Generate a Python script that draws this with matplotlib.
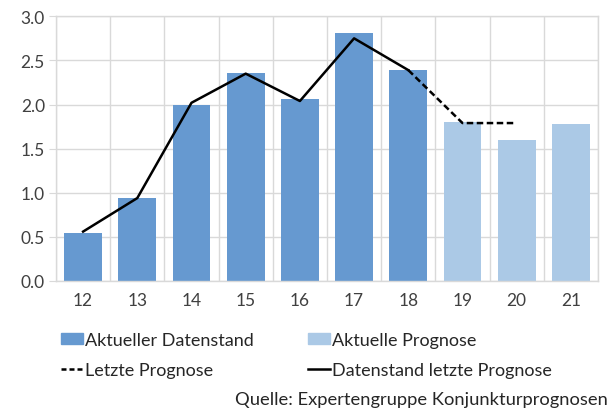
import matplotlib
matplotlib.use("Agg")
import matplotlib.pyplot as plt
from matplotlib.lines import Line2D
from matplotlib.patches import Patch
import numpy as np

plt.rcParams['font.family'] = ['Lato', 'DejaVu Sans']

years = ["12", "13", "14", "15", "16", "17", "18", "19", "20", "21"]
actual = [0.54, 0.94, 2.00, 2.36, 2.06, 2.81, 2.39]
forecast = [1.80, 1.60, 1.78]
last_data = [0.56, 0.94, 2.02, 2.35, 2.04, 2.75, 2.39]
last_forecast = [2.39, 1.79, 1.79]

grid_c = "#D9D9D9"
dark = "#6699D0"
light = "#ABC9E6"

fig = plt.figure(figsize=(6.1, 4.1), dpi=100)
ax = fig.add_axes([56/610, 1-282/410, (598-56)/610, (282-17.3)/410])

x = np.arange(len(years))
ax.bar(x[:7], actual, width=0.7, color=dark, zorder=2)
ax.bar(x[7:], forecast, width=0.7, color=light, zorder=2)
ax.plot(x[:7], last_data, color="black", lw=1.8, zorder=3)
ax.plot(x[6:9], last_forecast, color="black", lw=1.8, ls=(0, (2.6, 1.4)), zorder=3)

ax.set_xlim(-0.5, len(years)-0.5)
ax.set_ylim(0, 3.0)
ax.set_yticks(np.arange(0, 3.01, 0.5))
ax.set_yticklabels([f"{v:.1f}" for v in np.arange(0, 3.01, 0.5)])
ax.set_xticks(x)
ax.set_xticklabels(years)
ax.set_xticks(np.arange(-0.5, len(years), 1), minor=True)
ax.grid(False)
ax.grid(True, axis='y', which='major', color=grid_c, lw=1, zorder=0)
ax.grid(True, axis='x', which='minor', color=grid_c, lw=1, zorder=0)
ax.tick_params(axis='x', which='major', length=0, pad=8, labelsize=12.5, colors="#404040")
ax.tick_params(axis='x', which='minor', length=0)
ax.tick_params(axis='y', length=5, color=grid_c, labelsize=12.5, colors="#404040", pad=3)
for s in ax.spines.values():
    s.set_color(grid_c)
    s.set_linewidth(1)
ax.set_axisbelow(True)

handles = [Patch(color=dark), Line2D([], [], color="black", lw=1.8, ls=(0, (2, 1.2))),
           Patch(color=light), Line2D([], [], color="black", lw=1.8)]
labels = ["Aktueller Datenstand", "Letzte Prognose", "Aktuelle Prognose", "Datenstand letzte Prognose"]
leg = fig.legend(handles, labels, ncol=2, loc="upper left", bbox_to_anchor=(61/610, 1-333/410),
                 frameon=False, fontsize=13, handlelength=1.22, handleheight=0.6, handletextpad=0.1,
                 columnspacing=3.0, labelspacing=0.8, borderpad=0, borderaxespad=0)
for t in leg.get_texts():
    t.set_color("#262626")

fig.text(608/610, 1-400/410, "Quelle: Expertengruppe Konjunkturprognosen", ha="right", va="center",
         fontsize=13.2, color="#262626")

fig.savefig("out.png", dpi=100)
